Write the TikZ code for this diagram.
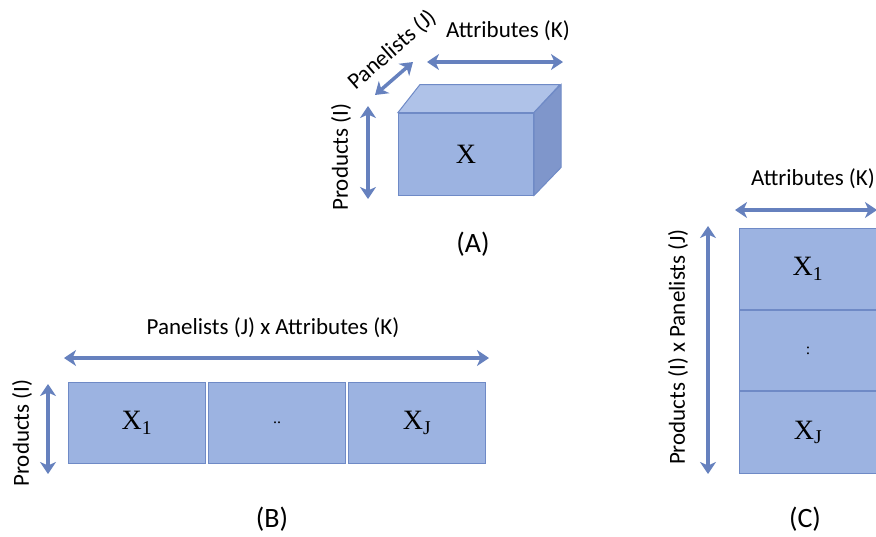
\documentclass[tikz,border=0pt]{standalone}
\usepackage{fontspec}
\setmainfont{Carlito}
\newfontfamily\matfont{Liberation Serif}
\usetikzlibrary{arrows.meta,positioning,calc}
\definecolor{ArrowBlue}{HTML}{6681BE}
\definecolor{SliceFill}{HTML}{9CB3E1}
\definecolor{SliceEdge}{HTML}{6F8AC6}
\definecolor{TopFace}{HTML}{AFC2E8}
\definecolor{SideFace}{HTML}{7F96CB}

\begin{document}
\begin{tikzpicture}[x=1pt,y=-1pt,
  slice/.style={draw=SliceEdge, fill=SliceFill, line width=1pt, inner sep=0pt,
    font=\matfont\fontsize{28}{28}\selectfont},
  dots/.style={font=\matfont\fontsize{16}{16}\selectfont},
  dimarrow/.style={ArrowBlue, line width=3.5pt,
    {Stealth[length=12pt,width=16pt,inset=3.5pt]}-{Stealth[length=12pt,width=16pt,inset=3.5pt]}},
  axislabel/.style={font=\fontsize{23}{25}\selectfont},
  caption/.style={font=\fontsize{28}{30}\selectfont}]
  \useasboundingbox (0,0) rectangle (876,536);

  % (A) the data cube
  \node[slice, minimum width=135, minimum height=82] (cube) at (466,154) {X};
  \draw[SliceEdge, fill=TopFace, line width=1pt] (cube.north west) -- ++(22,-28) -- ++(140,0) -- (cube.north east) -- cycle;
  \draw[SliceEdge, fill=SideFace, line width=1pt] (cube.north east) -- ++(27,-28) -- ++(0,83) -- (cube.south east) -- cycle;
  \coordinate (ka1) at (427,62);  \coordinate (ka2) at (563,62);
  \coordinate (ja1) at (375,95);  \coordinate (ja2) at (413,62);
  \coordinate (ia1) at (368,106); \coordinate (ia2) at (368,199);
  \draw[dimarrow] (ka1) -- (ka2);
  \draw[dimarrow] (ja1) -- (ja2);
  \draw[dimarrow] (ia1) -- (ia2);
  \node[axislabel] (klabA) at (508,31) {Attributes (K)};
  \node[axislabel, rotate=41] (jlabA) at (392,50) {Panelists (J)};
  \node[axislabel, rotate=90] (ilabA) at (341,157) {Products (I)};
  \node[caption] (capA) at (473,244) {(A)};

  % (B) unfolded along panelists
  \node[slice, minimum width=137, minimum height=81, anchor=north west] (b1) at (68,382) {X\textsubscript{1}};
  \node[slice, dots, minimum width=137, minimum height=81, right=2 of b1] (b2) {..};
  \node[slice, minimum width=137, minimum height=81, right=2 of b2] (b3) {X\textsubscript{J}};
  \coordinate (jk1) at (64,358);  \coordinate (jk2) at (489,358);
  \coordinate (ib1) at (48,384);  \coordinate (ib2) at (48,474);
  \draw[dimarrow] (jk1) -- (jk2);
  \draw[dimarrow] (ib1) -- (ib2);
  \node[axislabel] (jklab) at (273,328) {Panelists (J) x Attributes (K)};
  \node[axislabel, rotate=90] (ilabB) at (22,433) {Products (I)};
  \node[caption] (capB) at (272,519) {(B)};

  % (C) stacked along products
  \node[slice, minimum width=137, minimum height=81, anchor=north west] (c1) at (739,228) {X\textsubscript{1}};
  \node[slice, dots, minimum width=137, minimum height=80, below=0 of c1] (c2) {:};
  \node[slice, minimum width=137, minimum height=82, below=0 of c2] (c3) {X\textsubscript{J}};
  \coordinate (kc1) at (735,210); \coordinate (kc2) at (877,210);
  \coordinate (ij1) at (708,226); \coordinate (ij2) at (708,474);
  \draw[dimarrow] (kc1) -- (kc2);
  \draw[dimarrow] (ij1) -- (ij2);
  \node[axislabel] (klabC) at (813,179) {Attributes (K)};
  \node[axislabel, rotate=90] (ijlab) at (678,347) {Products (I) x Panelists (J)};
  \node[caption] (capC) at (805,519) {(C)};
\end{tikzpicture}
\end{document}
